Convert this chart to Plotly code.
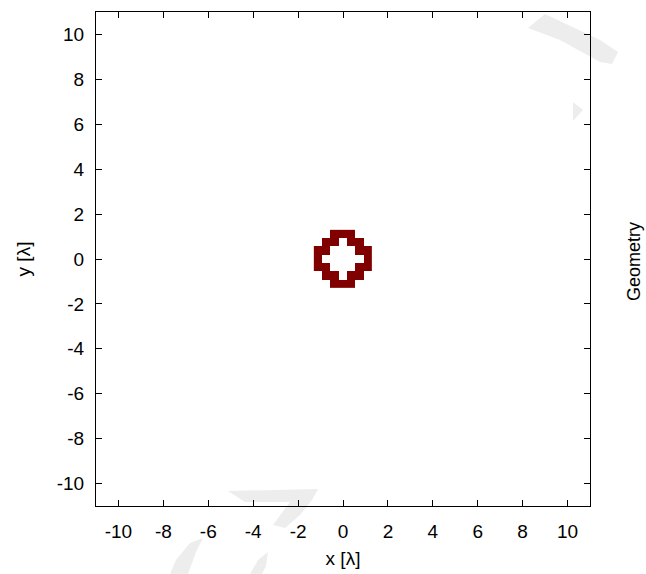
import plotly.graph_objects as go

# Cell centres of the geometry grid (in wavelengths)
cell = 0.371
x_cells = [-3 * cell, -2 * cell, -1 * cell, 0.0, 1 * cell, 2 * cell, 3 * cell]
y_cells = [-3 * cell, -2 * cell, -1 * cell, 0.0, 1 * cell, 2 * cell, 3 * cell]

# Geometry occupancy (1 = material), rows from bottom (y low) to top
geometry = [
    [0, 0, 1, 1, 1, 0, 0],
    [0, 1, 1, 0, 1, 1, 0],
    [1, 1, 0, 0, 0, 1, 1],
    [1, 0, 0, 0, 0, 0, 1],
    [1, 1, 0, 0, 0, 1, 1],
    [0, 1, 1, 0, 1, 1, 0],
    [0, 0, 1, 1, 1, 0, 0],
]
z = [[v if v else None for v in row] for row in geometry]

tick_vals = [-10, -8, -6, -4, -2, 0, 2, 4, 6, 8, 10]
tick_text = [str(v) for v in tick_vals]

W, H = 646, 574
L, R, T, B = 96, 56, 12, 68
PW, PH = W - L - R, H - T - B


def px(xp):
    return (xp - L) / PW


def py(yp):
    return (H - B - yp) / PH


def poly(pts):
    return "M " + " L ".join(f"{px(a):.4f},{py(b):.4f}" for a, b in pts) + " Z"


# faint background watermark strokes (approximate)
wm_color = "#ededed"
watermark = [
    [(528, 28), (545, 14), (600, 40), (618, 52), (612, 64), (600, 62), (560, 40)],
    [(573, 102), (583, 110), (573, 121)],
    [(228, 491), (318, 489), (312, 500), (300, 515), (285, 528), (273, 525), (290, 502), (245, 502)],
    [(170, 574), (176, 560), (190, 543), (203, 538), (196, 552), (188, 574)],
    [(250, 574), (258, 560), (268, 552), (266, 566), (262, 574)],
]
shapes = [dict(type="path", path=poly(p), xref="paper", yref="paper",
               fillcolor=wm_color, line=dict(width=0), layer="below")
          for p in watermark]

fig = go.Figure()
fig.add_trace(go.Heatmap(
    x=x_cells, y=y_cells, z=z,
    colorscale=[[0, "#800000"], [1, "#800000"]],
    showscale=False, hoverinfo="skip",
))

font = dict(family="Liberation Sans, Arial, sans-serif", size=19, color="black")
axis_common = dict(
    range=[-11, 11], tickvals=tick_vals, ticktext=tick_text,
    ticks="inside", ticklen=6, tickwidth=1, tickcolor="black",
    showline=True, linecolor="black", linewidth=1, mirror="ticks",
    showgrid=False, zeroline=False, tickfont=font, automargin=False,
)

fig.update_layout(
    width=W, height=H,
    margin=dict(l=L, r=R, t=T, b=B, autoexpand=False),
    paper_bgcolor="white", plot_bgcolor="rgba(0,0,0,0)",
    xaxis=dict(**axis_common, ticklabelstandoff=8,
               title=dict(text="x [λ]", font=font, standoff=10)),
    yaxis=dict(**axis_common, ticklabelstandoff=7,
               title=dict(text="y [λ]", font=font, standoff=21)),
    showlegend=False,
    shapes=shapes,
    annotations=[dict(text="Geometry", x=px(634), y=py(262), xref="paper", yref="paper",
                      xanchor="center", yanchor="middle", showarrow=False,
                      textangle=-90,
                      font=dict(family="Liberation Sans, Arial, sans-serif", size=18,
                                color="black"))],
)
fig.write_html("out.html")
